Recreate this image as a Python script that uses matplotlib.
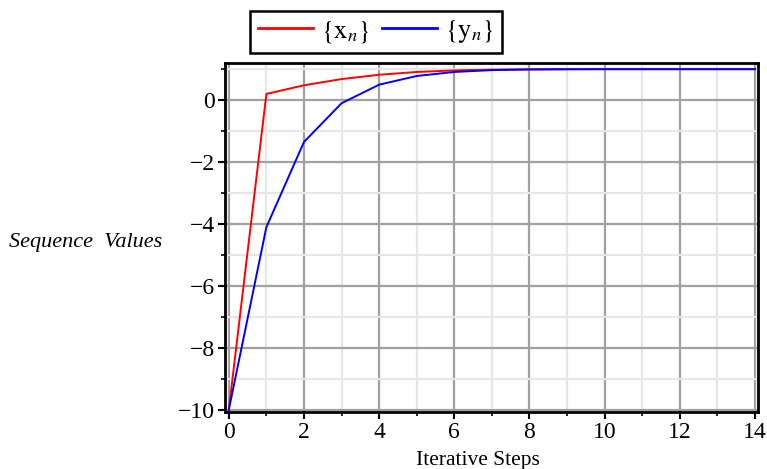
import matplotlib
matplotlib.use("Agg")
import matplotlib.pyplot as plt
from matplotlib.ticker import MultipleLocator

plt.rcParams['font.family'] = ['Liberation Serif', 'DejaVu Serif']
plt.rcParams['mathtext.fontset'] = 'stix'

# iterative steps and the two sequences
steps = list(range(15))
x_n = [-10, 0.2, 0.48, 0.68, 0.82, 0.91, 0.96, 0.985, 0.995, 1.0, 1.0, 1.0, 1.0, 1.0, 1.0]
y_n = [-10, -4.1, -1.35, -0.1, 0.5, 0.78, 0.91, 0.97, 0.99, 0.997, 1.0, 1.0, 1.0, 1.0, 1.0]

fig = plt.figure(figsize=(7.67, 4.69), dpi=100)
ax = fig.add_axes([0.2934, 0.1215, 0.6949, 0.7442])

ax.plot(steps, x_n, color='#ff0000', lw=1.4, label=r'$\{\mathrm{x}_{n}\}$')
ax.plot(steps, y_n, color='#0000ff', lw=1.4, label=r'$\{\mathrm{y}_{n}\}$')

ax.set_xlim(-0.1, 14.08)
ax.set_ylim(-10.07, 1.2)
ax.xaxis.set_major_locator(MultipleLocator(2))
ax.xaxis.set_minor_locator(MultipleLocator(1))
ax.yaxis.set_major_locator(MultipleLocator(2))
ax.yaxis.set_minor_locator(MultipleLocator(1))

ax.grid(which='major', color='#a0a0a0', lw=1.6)
ax.grid(which='minor', color='#e6e6e6', lw=1.6)
ax.set_axisbelow(True)

for s in ax.spines.values():
    s.set_linewidth(2)
    s.set_color('black')

ax.tick_params(which='major', direction='out', length=5, width=1.5, labelsize=17, pad=2)
ax.tick_params(which='minor', direction='out', length=3, width=1.2)

fig.text(478 / 767, 1 - 460 / 469, 'Iterative Steps', fontsize=15.5,
         ha='center', va='center')
fig.text(0.112, 0.484, 'Sequence  Values', fontsize=16, style='italic',
         ha='center', va='center')

leg = ax.legend(loc='center', bbox_to_anchor=(0.283, 1.089), ncol=2, fontsize=19,
                frameon=True, fancybox=False, edgecolor='black', framealpha=1,
                handlelength=2.1, columnspacing=0.45, borderpad=0.3, handletextpad=0.3,
                borderaxespad=0)
leg.get_frame().set_linewidth(1.8)
for h in leg.get_lines():
    h.set_linewidth(2)

plt.savefig('out.png', dpi=100)
